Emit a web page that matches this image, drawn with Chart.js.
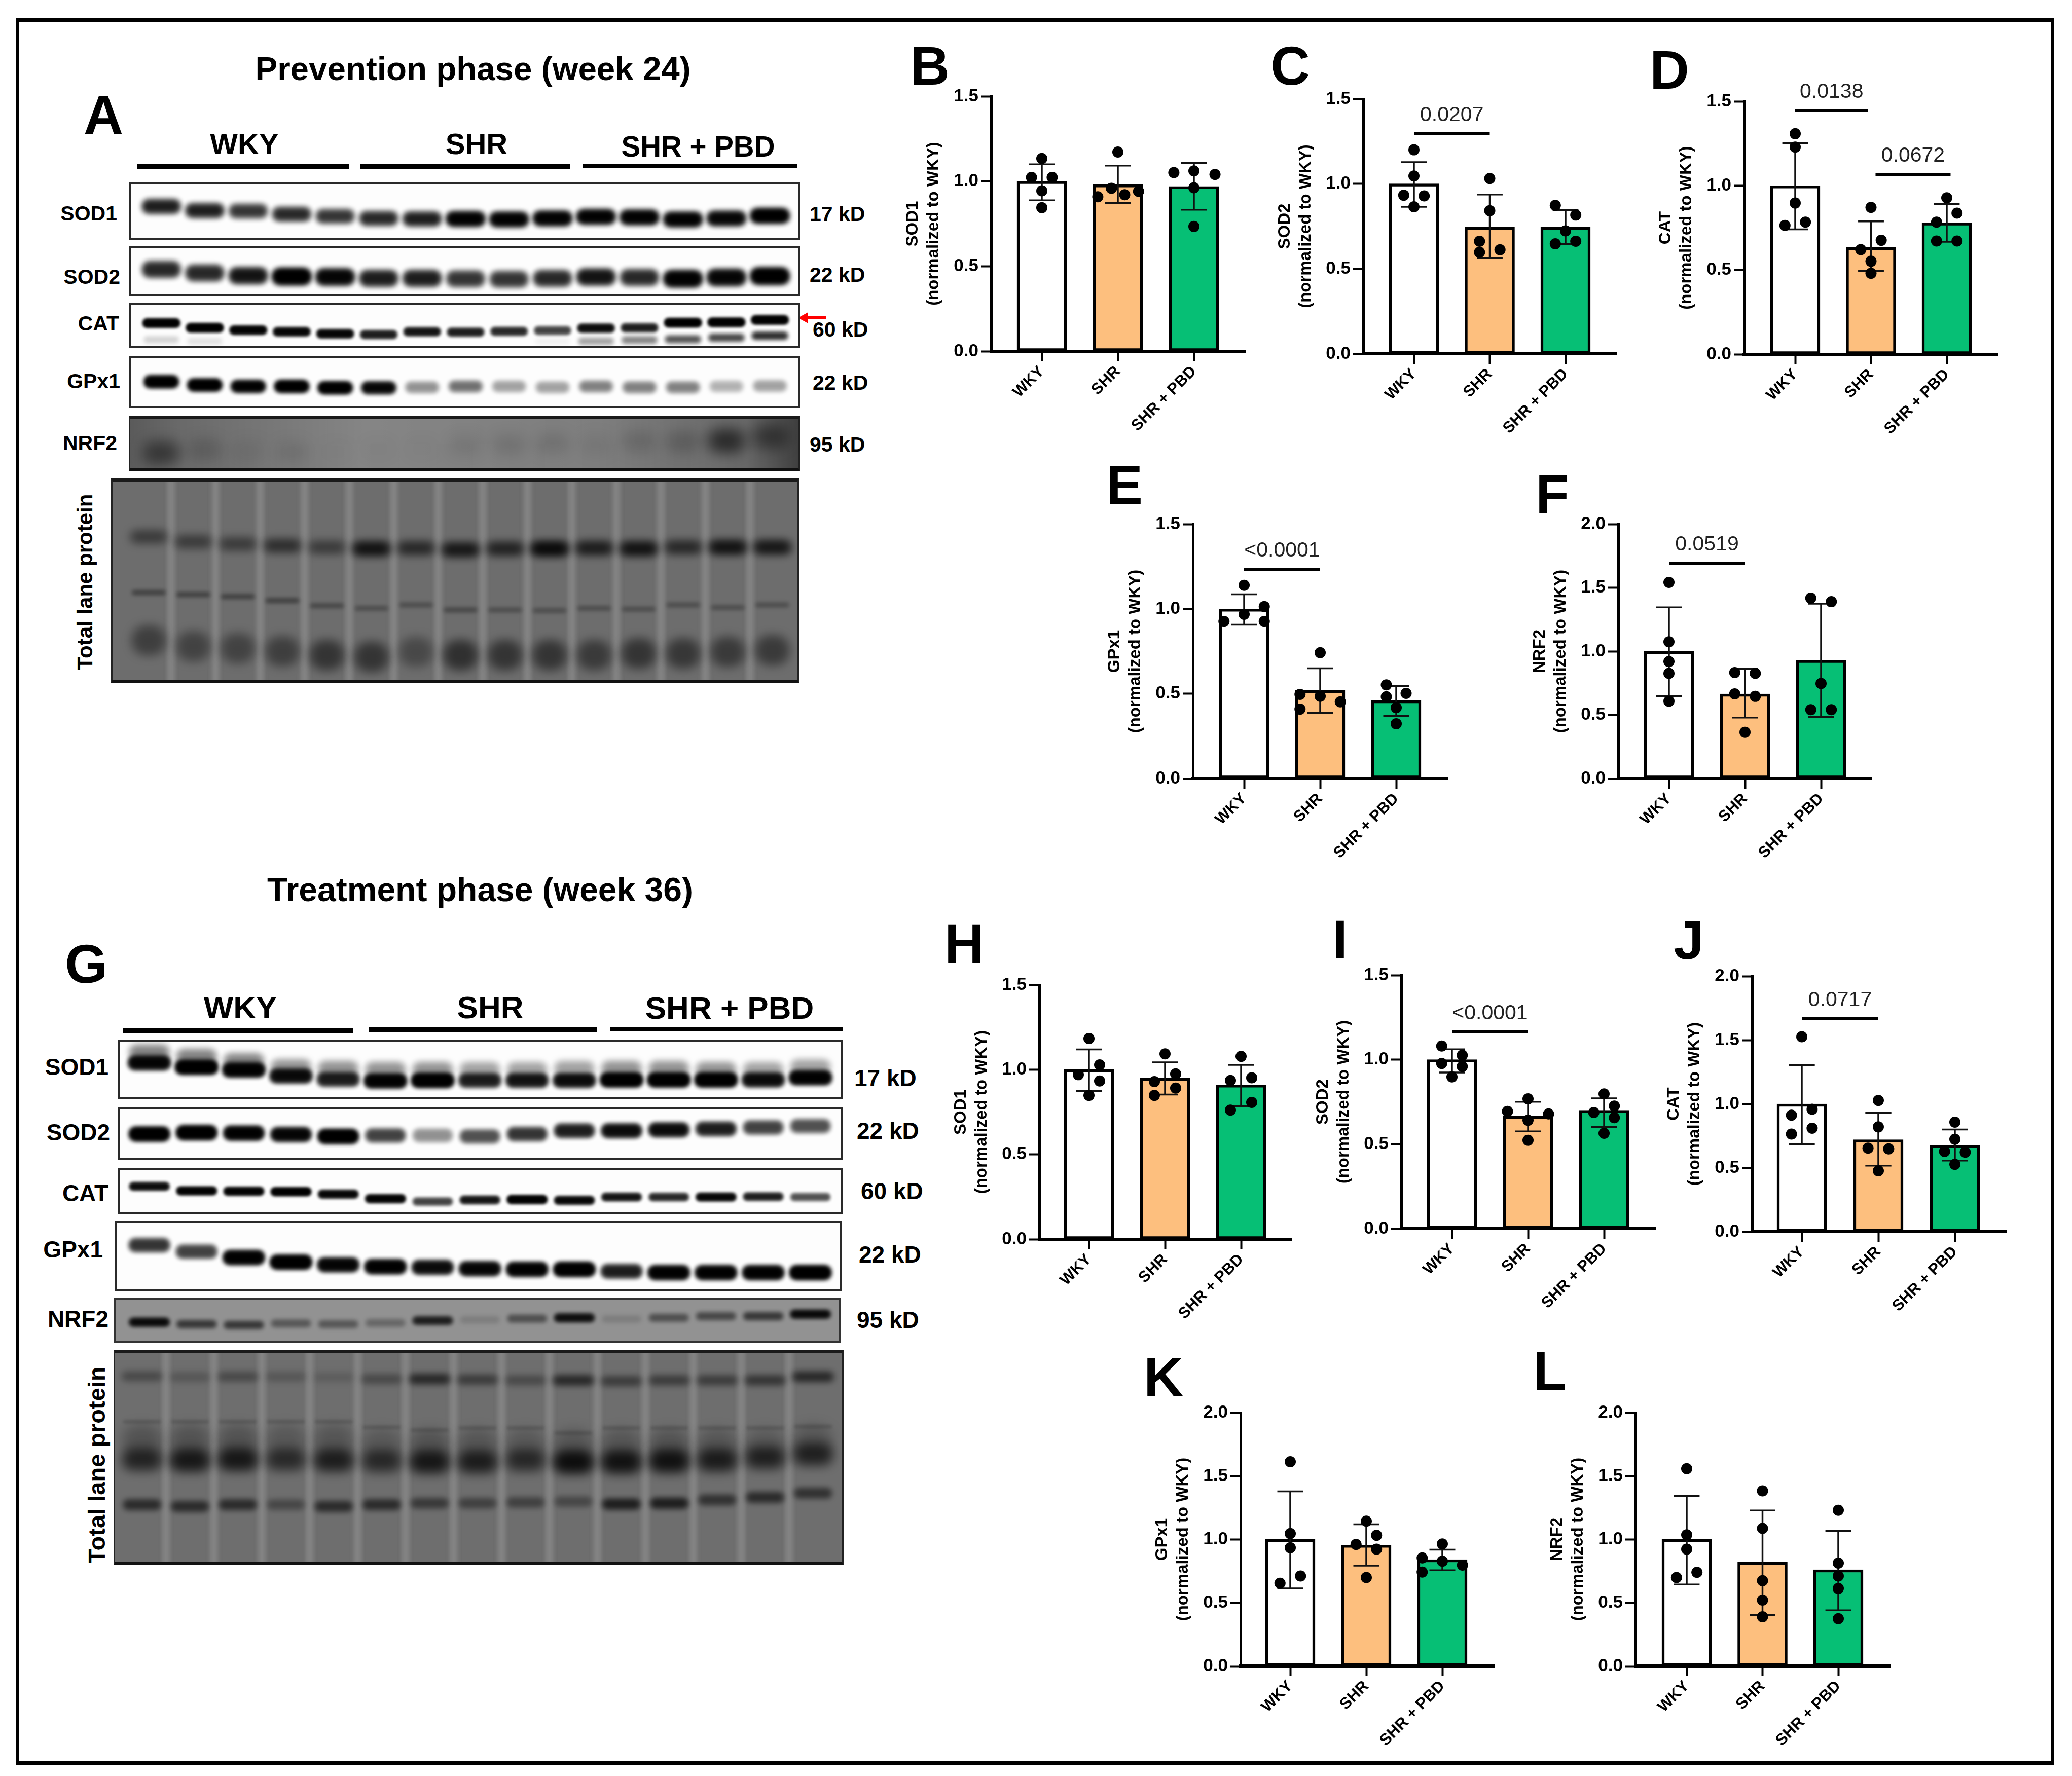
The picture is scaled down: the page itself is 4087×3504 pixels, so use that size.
<!DOCTYPE html>
<html><head><meta charset="utf-8">
<script src="https://cdn.jsdelivr.net/npm/chart.js@4"></script>
<style>
html,body{margin:0;padding:0;background:#fff}
#page{position:relative;width:4087px;height:3504px;overflow:hidden;background:#fff;font-family:"Liberation Sans",Arial,sans-serif}
.t{position:absolute;white-space:nowrap;line-height:1;color:#000}
.r{position:absolute;background:#000}
.blot{position:absolute;overflow:hidden;box-sizing:border-box}
.blot canvas,.bar canvas{position:absolute;left:0;top:0}
.frame{position:absolute;box-sizing:border-box;pointer-events:none}
</style></head><body><div id="page"></div>
<script>
/* ---------- categories ---------- */
const groups = ['WKY','SHR','SHR + PBD'];
const yTitle2 = '(normalized to WKY)';

/* ---------- bar panels: means, error limits, individual animals, dot jitter ---------- */
const B_mean=[1.0,0.98,0.97], B_lo=[0.888,0.873,0.833], B_hi=[1.10,1.092,1.108];
const B_dots=[[1.134,1.023,1.023,0.944,0.845],[1.172,0.959,0.909,0.921,0.941],[1.051,1.061,1.04,0.962,0.734]];
const B_jit=[[0,-.136,.136,0,0],[0,-.085,-.264,.09,.272],[-.264,0,.277,0,0]];

const C_mean=[1.0,0.745,0.745], C_lo=[0.865,0.563,0.645], C_hi=[1.127,0.937,0.845];
const C_dots=[[1.2,1.046,0.933,0.929,0.865],[1.031,0.842,0.662,0.597,0.612],[0.873,0.816,0.723,0.647,0.662]];
const C_jit=[[0,0,-.135,.135,0],[0,0,-.135,-.135,.135],[-.135,.135,0,-.135,.135]];

const D_mean=[1.0,0.635,0.78], D_lo=[0.741,0.495,0.667], D_hi=[1.253,0.788,0.891];
const D_dots=[[1.308,1.229,0.897,0.764,0.784],[0.871,0.676,0.621,0.552,0.48],[0.928,0.837,0.784,0.672,0.672]];
const D_jit=[[0,0,0,-.135,.135],[0,.135,-.135,0,0],[0,.135,-.135,-.135,.135]];

const E_mean=[1.0,0.52,0.46], E_lo=[0.907,0.388,0.37], E_hi=[1.086,0.65,0.545];
const E_dots=[[1.139,1.014,0.968,0.926,0.926],[0.742,0.496,0.485,0.452,0.409],[0.552,0.502,0.482,0.418,0.323]];
const E_jit=[[0,.265,0,-.265,.265],[0,-.265,0,.265,-.265],[-.13,.13,-.13,0,0]];

const F_mean=[1.0,0.665,0.93], F_lo=[0.646,0.479,0.484], F_hi=[1.346,0.862,1.375];
const F_dots=[[1.542,1.075,0.919,0.827,0.608],[0.833,0.827,0.665,0.646,0.364],[1.418,1.39,0.747,0.541,0.541]];
const F_jit=[[0,0,0,0,0],[-.135,.135,-.135,.135,0],[-.135,.135,0,-.135,.135]];

const H_mean=[1.0,0.95,0.91], H_lo=[0.873,0.853,0.784], H_hi=[1.119,1.043,1.028];
const H_dots=[[1.183,1.028,0.97,0.933,0.848],[1.093,0.975,0.929,0.891,0.848],[1.078,0.952,0.936,0.807,0.761]];
const H_jit=[[0,.14,-.14,.14,0],[0,.14,-.14,.14,-.14],[0,.14,-.14,.14,-.14]];

const I_mean=[1.0,0.665,0.70], I_lo=[0.924,0.575,0.602], I_hi=[1.061,0.751,0.771];
const I_dots=[[1.081,1.026,0.977,0.959,0.898],[0.768,0.694,0.679,0.641,0.523],[0.797,0.725,0.687,0.656,0.564]];
const I_jit=[[-.135,.135,-.135,.135,0],[0,-.27,.27,0,0],[0,.135,-.135,.135,0]];

const J_mean=[1.0,0.72,0.675], J_lo=[0.685,0.517,0.557], J_hi=[1.303,0.932,0.80];
const J_dots=[[1.526,0.958,0.912,0.81,0.764],[1.027,0.82,0.654,0.648,0.476],[0.857,0.723,0.628,0.622,0.527]];
const J_jit=[[0,.135,-.135,.135,-.135],[0,0,-.135,.135,0],[0,0,-.135,.135,0]];

const K_mean=[1.0,0.955,0.84], K_lo=[0.612,0.792,0.755], K_hi=[1.378,1.118,0.918];
const K_dots=[[1.612,1.045,0.933,0.71,0.653],[1.143,1.031,0.959,0.922,0.698],[0.963,0.853,0.827,0.796,0.741]];
const K_jit=[[0,0,0,.135,-.135],[0,.135,-.135,.135,0],[0,-.265,0,.265,-.265]];

const L_mean=[1.0,0.82,0.76], L_lo=[0.643,0.402,0.439], L_hi=[1.343,1.227,1.065];
const L_dots=[[1.557,1.035,0.922,0.739,0.698],[1.382,1.086,0.673,0.52,0.388],[1.229,0.812,0.71,0.612,0.373]];
const L_jit=[[0,0,0,.135,-.135],[0,0,0,0,0],[0,0,0,0,0]];

/* significance brackets: [from, to, height, label] */
const C_sig=[[0,1,1.294,'0.0207']];
const D_sig=[[0,0.96,1.446,'0.0138'],[1.06,2.05,1.067,'0.0672']];
const E_sig=[[0,1,1.234,'<0.0001']];
const F_sig=[[0,1,1.693,'0.0519']];
const I_sig=[[0,1,1.164,'<0.0001']];
const J_sig=[[0,1,1.668,'0.0717']];

/* ---------- blots: band position (% of the strip height) and darkness per lane ---------- */
const aSOD1_y=[41,49,50,56,60,64,65,65,66,64,61,62,66,64,59];
const aSOD1_d=[.75,.75,.65,.7,.65,.7,.75,.95,.95,.95,.95,.95,.95,.9,1];
const aSOD2_y=[46,54,60,62,63,66,66,67,68,66,63,64,67,64,61];
const aSOD2_d=[.7,.7,.8,1,.9,.75,.75,.65,.65,.7,.8,.7,.95,.9,1];
const aCAT_y=[44,56,62,66,71,73,66,67,65,63,57,56,43,42,36];
const aCAT_d=[1,1,.95,.9,.9,.75,.8,.75,.7,.6,.85,.75,1,1,1];
const aCAT2_y=[86,90,90,90,90,90,90,90,90,90,90,87,85,81,76];
const aCAT2_d=[.15,.1,0,0,0,0,0,0,0,.05,.3,.4,.55,.6,.7];
const aGPX_y=[49,56,59,59,62,62,61,59,59,61,59,61,61,59,58];
const aGPX_d=[1,1,.95,1,1,.9,.35,.45,.3,.3,.4,.4,.4,.25,.3];
const aNRF_y=[68,62,64,66,66,60,60,54,52,50,52,46,46,44,36];
const aNRF_d=[.38,.14,.06,.08,.02,.02,.02,.08,.1,.1,.06,.12,.16,.5,.35];
const aT1_y=[28,30.5,31.6,32.5,33.3,34,33.7,34.5,34,34,33.7,34,33.3,33.3,33.3];
const aT1_d=[.4,.4,.4,.5,.4,.75,.55,.7,.6,.85,.65,.75,.55,.75,.7];
const aT2_y=[56,57,58,60,62.6,63.9,62.2,64.7,64.7,65,63.9,64.3,62.2,63.5,62.2];
const aT2_d=[.4,.4,.4,.4,.35,.3,.3,.35,.3,.3,.3,.3,.3,.3,.3];
const aT3_y=[80,83,84,85.5,87.4,88.3,85.8,87.4,87.4,87.4,87.4,86.6,86.6,85.8,85];
const aT3_d=[.35,.32,.32,.35,.42,.42,.28,.45,.42,.42,.38,.42,.4,.38,.38];

const gSOD1_y=[38,46,51,62,68,71,70,70,70,70,69,69,69,69,65];
const gSOD1_d=[.9,1,.95,.85,.75,.95,1,.75,.8,.85,1,1,1,.85,.95];
const gSOD1b_y=[19,27,35,46,49,51,51,51,51,49,49,49,51,51,46];
const gSOD1b_d=[.4,.4,.4,.35,.35,.35,.35,.3,.3,.3,.35,.35,.35,.3,.3];
const gSOD2_y=[51,48,49,52,56,54,54,56,51,44,44,42,40,37,34];
const gSOD2_d=[1,1,.95,.9,1,.6,.35,.55,.65,.75,.85,.85,.75,.6,.55];
const gCAT_y=[39,50,51,52,58,69,76,72,71,73,65,65,65,64,65];
const gCAT_d=[.85,.95,.95,1,.9,.95,.6,.8,1,.9,.8,.7,.9,.75,.55];
const gGPX_y=[33,43,52,59,63,66,67,69,70,70,73,75,75,75,75];
const gGPX_d=[.65,.6,.95,1,.9,.95,.85,.9,.95,1,.75,.95,.95,.95,1];
const gNRF_y=[54,59,61,57,59,56,50,48,45,43,46,43,39,39,34];
const gNRF_d=[1,.6,.6,.4,.4,.3,.8,.15,.45,.95,.15,.45,.5,.6,1];
const gT1_y=[11.4,11.8,11.6,11.6,11.9,12.7,12.7,13,13.3,13.3,13.7,13.3,13.3,13.3,11.6];
const gT1_d=[.3,.2,.3,.2,.15,.3,.55,.4,.3,.55,.4,.4,.4,.45,.55];
const gT2_y=[33,33,33,33,33,35.7,37,36,36,38.4,36,36,36,36,35.3];
const gT2_d=[.18,.18,.18,.18,.18,.18,.18,.18,.18,.18,.18,.18,.18,.18,.18];
const gT3_y=[51,51.4,51,51,51.4,51.8,52.2,52.2,51.4,52.2,52.2,51.8,51.4,50.2,48.6];
const gT3_d=[.55,.65,.65,.5,.6,.5,.65,.6,.5,.75,.7,.7,.6,.55,.55];
const gT4_y=[42,42,42,42,42,44,44,44,44,44,44,44,44,44,42];
const gT4_d=[.22,.22,.22,.18,.2,.18,.22,.2,.18,.2,.2,.22,.2,.18,.2];
const gT5_y=[72.5,73.3,72.5,72.5,73.3,72.5,71.8,71.8,71.4,71,72.2,71.8,70.2,69,67];
const gT5_d=[.5,.5,.5,.3,.5,.5,.4,.35,.35,.3,.6,.6,.45,.5,.45];

/* ---------- layout (pixels) ---------- */
const barPanels=[
 {n:'SOD1',ax:1955,y0:693,yt:190,c0:2055,c2:2355,end:2457,top:1.5,m:B_mean,lo:B_lo,hi:B_hi,d:B_dots,j:B_jit,s:[]},
 {n:'SOD2',ax:2689,y0:698,yt:195,c0:2789,c2:3088,end:3189,top:1.5,m:C_mean,lo:C_lo,hi:C_hi,d:C_dots,j:C_jit,s:C_sig},
 {n:'CAT', ax:3440,y0:699,yt:200,c0:3541,c2:3840,end:3941,top:1.5,m:D_mean,lo:D_lo,hi:D_hi,d:D_dots,j:D_jit,s:D_sig},
 {n:'GPx1',ax:2353,y0:1536,yt:1034,c0:2454,c2:2754,end:2855,top:1.5,m:E_mean,lo:E_lo,hi:E_hi,d:E_dots,j:E_jit,s:E_sig},
 {n:'NRF2',ax:3192,y0:1536,yt:1034,c0:3292,c2:3592,end:3692,top:2,m:F_mean,lo:F_lo,hi:F_hi,d:F_dots,j:F_jit,s:F_sig},
 {n:'SOD1',ax:2050,y0:2445,yt:1943,c0:2148,c2:2448,end:2548,top:1.5,m:H_mean,lo:H_lo,hi:H_hi,d:H_dots,j:H_jit,s:[]},
 {n:'SOD2',ax:2764,y0:2424,yt:1924,c0:2864,c2:3164,end:3265,top:1.5,m:I_mean,lo:I_lo,hi:I_hi,d:I_dots,j:I_jit,s:I_sig},
 {n:'CAT', ax:3456,y0:2430,yt:1926,c0:3554,c2:3856,end:3957,top:2,m:J_mean,lo:J_lo,hi:J_hi,d:J_dots,j:J_jit,s:J_sig},
 {n:'GPx1',ax:2447,y0:3287,yt:2787,c0:2545,c2:2845,end:2947,top:2,m:K_mean,lo:K_lo,hi:K_hi,d:K_dots,j:K_jit,s:[]},
 {n:'NRF2',ax:3226,y0:3287,yt:2787,c0:3327,c2:3626,end:3728,top:2,m:L_mean,lo:L_lo,hi:L_hi,d:L_dots,j:L_jit,s:[]}
];
const barFill=['#ffffff','#FDBF7E','#06BF75'];
const laneA={L0:313.6,d:86.4}, laneG={L0:290,d:93.8}, laneGT={L0:275.5,d:95.2}, laneAT={L0:289,d:88.5};

const page=document.getElementById('page');
Chart.defaults.font.family='"Liberation Sans",Arial,sans-serif';
Chart.defaults.animation=false;
Chart.defaults.responsive=false;
Chart.defaults.devicePixelRatio=1;

function text(s,x,base,size,opt={}){
  const e=document.createElement('div');e.className='t';e.textContent=s;
  e.style.fontSize=size+'px';e.style.fontWeight=opt.weight||'bold';
  e.style.top=(base-.8465*size)+'px';
  const tx={l:0,c:-50,r:-100}[opt.align||'l'];
  e.style.left=x+'px';e.style.transform=`translateX(${tx}%)`+(opt.rot?` rotate(${opt.rot}deg)`:'');
  e.style.transformOrigin='50% 50%';
  page.appendChild(e);return e;
}
function rect(x,y,w,h,c){const e=document.createElement('div');e.className='r';
  e.style.cssText+=`left:${x}px;top:${y}px;width:${w}px;height:${h}px;background:${c||'#000'}`;page.appendChild(e);return e;}

/* ---------- figure furniture ---------- */
(function(){
  rect(31,36,4021,7);rect(31,3475,4021,7);rect(31,36,7,3446);rect(4045,36,7,3446);
  [['A',165,264],['B',1795,167],['C',2506,167],['D',3254,175],['E',2182,994],['F',3029,1012],
   ['G',128,1939],['H',1863,1899],['I',2628,1891],['J',3301,1892],['K',2256,2754],['L',3024,2742]]
   .forEach(a=>text(a[0],a[1],a[2],108));
  text('Prevention phase (week 24)',933,158,65.5,{align:'c'});
  text('Treatment phase (week 36)',947,1778,66,{align:'c'});
  text('WKY',482,304,58,{align:'c'});text('SHR',940,304,58,{align:'c'});text('SHR + PBD',1377,310,56.5,{align:'c'});
  rect(271,324,418,9);rect(710,324,414,9);rect(1149,323,424,9);
  text('WKY',474,2009,62,{align:'c'});text('SHR',967,2009,62,{align:'c'});text('SHR + PBD',1439,2010,62,{align:'c'});
  rect(243,2029,454,9);rect(727,2027,450,9);rect(1203,2026,459,9);
  [['SOD1',231,422],['SOD2',237,547],['CAT',235,639],['GPx1',237,753],['NRF2',231,875]]
    .forEach(a=>text(a[0],a[1],a[2]+14,41,{align:'r'}));
  [['17 kD',1597,423],['22 kD',1597,543],['60 kD',1603,651],['22 kD',1603,756],['95 kD',1597,878]]
    .forEach(a=>text(a[0],a[1],a[2]+14,41));
  [['SOD1',214,2105],['SOD2',217,2234],['CAT',214,2354],['GPx1',203,2465],['NRF2',214,2602]]
    .forEach(a=>text(a[0],a[1],a[2]+16,46,{align:'r'}));
  [['17 kD',1685,2127],['22 kD',1690,2231],['60 kD',1698,2350],['22 kD',1694,2475],['95 kD',1690,2604]]
    .forEach(a=>text(a[0],a[1],a[2]+16,46));
  text('Total lane protein',168,1148+15,42,{align:'c',rot:-90});
  text('Total lane protein',190,2890+17,47,{align:'c',rot:-90});
  rect(1592,624,38,6,'#f00');
  const ar=document.createElement('div');
  ar.style.cssText='position:absolute;left:1574px;top:616px;width:0;height:0;border-top:11px solid transparent;border-bottom:11px solid transparent;border-right:20px solid #f00';
  page.appendChild(ar);
})();

/* ---------- blots ---------- */
function sprite(w,h,blur,alpha,col){
  const pad=Math.ceil(blur*3)+2,c=document.createElement('canvas');
  c.width=w+2*pad;c.height=h+2*pad;
  const x=c.getContext('2d');x.filter=`blur(${blur}px)`;
  const paint=a=>{x.fillStyle=`rgba(${col||'0,0,0'},${a})`;x.beginPath();x.roundRect(pad,pad,w,h,Math.min(w/2,h*.45));x.fill();};
  paint(alpha);paint(alpha*alpha);
  return c;
}
function blot(b,lane,bg,bands,border){
  const div=document.createElement('div');div.className='blot';
  div.style.cssText+=`left:${b.x}px;top:${b.y}px;width:${b.w}px;height:${b.h}px;background:${bg}`;
  const cv=document.createElement('canvas');cv.width=b.w;cv.height=b.h;div.appendChild(cv);page.appendChild(div);
  const f=document.createElement('div');f.className='frame';
  f.style.cssText+=`left:${b.x}px;top:${b.y}px;width:${b.w}px;height:${b.h}px;`+border;page.appendChild(f);
  const datasets=bands.map((k,i)=>({
    type:'scatter',
    data:k.y.map((v,l)=>({x:k.lanes?k.lanes[l]:l,y:v})),
    pointRadius:1,
    pointStyle:k.y.map((v,l)=>sprite(k.w,k.h,k.blur,k.d[l]*(k.gain||1),k.col)),
    order:bands.length-i,clip:false
  }));
  new Chart(cv,{type:'scatter',data:{datasets},options:{
    layout:{padding:0},plugins:{legend:{display:false},tooltip:{enabled:false}},
    scales:{
      x:{type:'linear',display:false,min:(b.x-lane.L0)/lane.d,max:(b.x+b.w-lane.L0)/lane.d},
      y:{type:'linear',display:false,min:0,max:100,reverse:true}}
  }});
}
const thin='border:4px solid #2a2a2a;';
const heavy='border:3px solid #222;border-top:6px solid #1a1a1a;border-bottom:6px solid #111;';
const seps=[0,1,2,3,4,5,6,7,8,9,10,11,12,13].map(v=>v+.5);
const sepY=seps.map(()=>50), sepD=seps.map(()=>.6);

blot({x:254,y:360,w:1324,h:113},laneA,'#fdfdfd',[{y:aSOD1_y,d:aSOD1_d,w:74,h:26,blur:6}],thin);
blot({x:254,y:486,w:1324,h:98},laneA,'#fdfdfd',[{y:aSOD2_y,d:aSOD2_d,w:74,h:30,blur:6}],thin);
blot({x:254,y:598,w:1324,h:88},laneA,'#fdfdfd',[{y:aCAT2_y,d:aCAT2_d,w:70,h:14,blur:4},{y:aCAT_y,d:aCAT_d,w:72,h:16,blur:3}],thin);
blot({x:254,y:703,w:1324,h:102},laneA,'#fdfdfd',[{y:aGPX_y,d:aGPX_d,w:66,h:22,blur:5}],thin);
blot({x:254,y:821,w:1324,h:109},laneA,'linear-gradient(90deg,#5a5a5a 0%,#6a6a6a 8%,#858585 35%,#7e7e7e 70%,#686868 92%,#3e3e3e 100%)',
  [{y:aNRF_y,d:aNRF_d,w:70,h:42,blur:14}],heavy);
blot({x:219,y:944,w:1357,h:403},laneAT,'#6d6d6d',[
  {y:sepY,d:sepD,lanes:seps,w:14,h:420,blur:4,col:'140,140,140'},
  {y:aT3_y,d:aT3_d,w:66,h:58,blur:10},
  {y:aT2_y,d:aT2_d,w:66,h:8,blur:4},
  {y:aT1_y,d:aT1_d,w:72,h:24,blur:9}],heavy);

blot({x:232,y:2051,w:1430,h:118},laneG,'#fdfdfd',[{y:gSOD1b_y,d:gSOD1b_d,w:78,h:30,blur:7},{y:gSOD1_y,d:gSOD1_d,w:82,h:26,blur:5}],thin);
blot({x:232,y:2185,w:1430,h:103},laneG,'#fdfdfd',[{y:gSOD2_y,d:gSOD2_d,w:78,h:26,blur:5}],thin);
blot({x:232,y:2304,w:1430,h:91},laneG,'#fdfdfd',[{y:gCAT_y,d:gCAT_d,w:78,h:15,blur:3}],thin);
blot({x:227,y:2409,w:1433,h:139},laneG,'#fdfdfd',[{y:gGPX_y,d:gGPX_d,w:80,h:26,blur:5}],thin);
blot({x:225,y:2561,w:1434,h:89},laneG,'#929292',[{y:gNRF_y,d:gNRF_d,w:78,h:15,blur:4,gain:.85}],'border:4px solid #333;');
blot({x:224,y:2663,w:1440,h:425},laneGT,'#6e6e6e',[
  {y:sepY,d:sepD,lanes:seps,w:14,h:440,blur:4,col:'140,140,140'},
  {y:gT4_y,d:gT4_d,w:76,h:60,blur:12},
  {y:gT3_y,d:gT3_d,w:76,h:40,blur:11},
  {y:gT2_y,d:gT2_d,w:76,h:6,blur:3},
  {y:gT1_y,d:gT1_d,w:80,h:18,blur:7},
  {y:gT5_y,d:gT5_d,w:74,h:20,blur:6}],heavy);

/* ---------- bar charts ---------- */
const sigLabels={id:'sigLabels',afterDatasetsDraw(ch,a,o){
  const s=ch.options.plugins.sigLabels.items||[];const c=ch.ctx;
  c.save();c.font='41px "Liberation Sans"';c.fillStyle='#222';c.textAlign='center';c.textBaseline='alphabetic';
  s.forEach(q=>{const x=(ch.scales.x.getPixelForValue(q[0])+ch.scales.x.getPixelForValue(q[1]))/2;
    c.fillText(q[3],x,ch.scales.y.getPixelForValue(q[2])-25);});
  c.restore();
}};
function axisGrid(){return {display:true,offset:false,drawOnChartArea:false,drawTicks:true,tickLength:20,tickWidth:4,tickColor:'#000'};}
function barChart(p){
  const padT=70,padR=30,scaleW=175,scaleH=190;
  const W=scaleW+(p.end-p.ax)+padR,H=padT+(p.y0-p.yt)+scaleH;
  const div=document.createElement('div');div.className='bar';
  div.style.cssText=`position:absolute;left:${p.ax-scaleW}px;top:${p.yt-padT}px;width:${W}px;height:${H}px`;
  const cv=document.createElement('canvas');cv.width=W;cv.height=H;div.appendChild(cv);page.appendChild(div);
  const sp=(p.c2-p.c0)/2;
  const err=[];
  p.m.forEach((_,i)=>{err.push({x:i,y:p.lo[i]},{x:i,y:p.hi[i]},{x:i,y:null},
    {x:i-.17,y:p.hi[i]},{x:i+.17,y:p.hi[i]},{x:i,y:null},
    {x:i-.17,y:p.lo[i]},{x:i+.17,y:p.lo[i]},{x:i,y:null});});
  const sig=[];p.s.forEach(q=>{sig.push({x:q[0],y:q[2]},{x:q[1],y:q[2]},{x:q[1],y:null});});
  const dots=[];p.d.forEach((g,i)=>g.forEach((v,k)=>dots.push({x:i+p.j[i][k],y:v})));
  new Chart(cv,{type:'bar',data:{datasets:[
    {type:'scatter',data:dots,pointRadius:11,pointHoverRadius:11,pointBackgroundColor:'#000',pointBorderWidth:0,order:1,clip:false},
    {type:'scatter',data:err,showLine:true,spanGaps:false,borderColor:'#111',borderWidth:3.5,pointRadius:0,order:2,clip:false},
    {type:'scatter',data:sig,showLine:true,spanGaps:false,borderColor:'#000',borderWidth:6,pointRadius:0,order:2,clip:false},
    {type:'bar',data:p.m.map((v,i)=>({x:i,y:v})),backgroundColor:barFill,borderColor:'#000',borderWidth:5.5,borderSkipped:false,barThickness:98,order:3}
  ]},options:{
    layout:{padding:{top:padT,right:padR,left:0,bottom:0}},
    plugins:{legend:{display:false},tooltip:{enabled:false},sigLabels:{items:p.s}},
    scales:{
      x:{type:'linear',offset:false,min:-(p.c0-p.ax)/sp,max:(p.end-p.c0)/sp,
        grid:axisGrid(),border:{display:true,width:6,color:'#000'},
        ticks:{autoSkip:false,minRotation:45,maxRotation:45,padding:2,color:'#000',font:{size:31,weight:'bold'},
          callback:v=>groups[v]},
        afterBuildTicks:s=>{s.ticks=groups.map((g,i)=>({value:i}));},
        afterFit:s=>{s.height=scaleH;s.paddingLeft=0;s.paddingRight=0;}},
      y:{type:'linear',min:0,max:p.top,
        grid:axisGrid(),border:{display:true,width:5,color:'#000'},
        ticks:{stepSize:.5,padding:5,color:'#000',font:{size:35,weight:'bold'},callback:v=>v.toFixed(1)},
        title:{display:true,text:[p.n,yTitle2],color:'#000',padding:0,font:{size:33,weight:'bold',lineHeight:41/33}},
        afterFit:s=>{s.width=scaleW;s.paddingTop=0;s.paddingBottom=0;}}
    }},plugins:[sigLabels]});
}
barPanels.forEach(barChart);
</script></body></html>
